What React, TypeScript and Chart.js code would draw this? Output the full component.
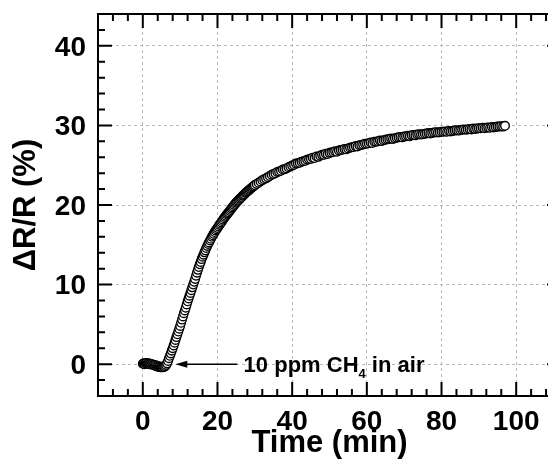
import React, { useEffect, useRef } from "react";
import { Chart, registerables } from "chart.js";

Chart.register(...registerables);

// Axis ranges and ticks
const X_MIN = -12;
const X_MAX = 112;
const Y_MIN = -4;
const Y_MAX = 44;
const X_MAJOR_STEP = 20;
const Y_MAJOR_STEP = 10;
const X_MINOR_STEP = 4;
const Y_MINOR_STEP = 2;

// Sampling grid of the measurement
const seg1Start = 0;
const seg1Step = 0.25;
// ΔR/R (%) from 0 to 30 min
const seg1Values = [
  0.05, 0.1, 0.0, 0.1,
  0.15, 0.05, 0.1, 0.0,
  0.05, -0.05, 0.0, -0.1,
  -0.1, -0.2, -0.15, -0.3,
  -0.25, -0.35, -0.3, -0.4,
  -0.35, -0.4, -0.3, -0.35,
  -0.25, -0.1, 0.1, 0.4,
  0.75, 1.05, 1.35, 1.7,
  2.0, 2.35, 2.7, 3.05,
  3.4, 3.75, 4.1, 4.45,
  4.8, 5.2, 5.6, 6.0,
  6.4, 6.75, 7.1, 7.5,
  7.9, 8.25, 8.6, 8.95,
  9.3, 9.65, 10.0, 10.35,
  10.7, 11.1, 11.5, 11.85,
  12.2, 12.55, 12.85, 13.2,
  13.5, 13.75, 14.05, 14.3,
  14.6, 14.85, 15.1, 15.3,
  15.55, 15.75, 16.0, 16.2,
  16.4, 16.6, 16.8, 16.95,
  17.1, 17.3, 17.5, 17.65,
  17.8, 18.0, 18.15, 18.35,
  18.5, 18.65, 18.8, 18.95,
  19.1, 19.25, 19.4, 19.55,
  19.7, 19.85, 20.0, 20.15,
  20.3, 20.4, 20.55, 20.65,
  20.8, 20.9, 21.0, 21.15,
  21.25, 21.35, 21.5, 21.6,
  21.7, 21.8, 21.9, 22.0,
  22.1, 22.2, 22.3, 22.4,
  22.5,
];

const seg2Start = 30.5;
const seg2Step = 0.5;
// ΔR/R (%) from 30.5 to 97 min
const seg2Values = [
  22.65, 22.8, 22.95, 23.1, 23.25, 23.35, 23.5, 23.65, 23.8, 23.9,
  24.0, 24.15, 24.2, 24.3, 24.45, 24.5, 24.6, 24.75, 24.85, 24.95,
  25.05, 25.2, 25.25, 25.3, 25.45, 25.5, 25.55, 25.7, 25.75, 25.8,
  25.95, 25.9, 26.1, 26.05, 26.2, 26.3, 26.3, 26.45, 26.4, 26.55,
  26.6, 26.65, 26.75, 26.7, 26.85, 26.9, 26.95, 27.05, 27.0, 27.1,
  27.2, 27.25, 27.3, 27.4, 27.35, 27.5, 27.55, 27.6, 27.7, 27.7,
  27.75, 27.85, 27.8, 27.95, 27.95, 28.0, 28.1, 28.05, 28.15, 28.2,
  28.25, 28.3, 28.35, 28.3, 28.4, 28.45, 28.5, 28.55, 28.5, 28.6,
  28.65, 28.7, 28.65, 28.75, 28.8, 28.75, 28.85, 28.9, 28.85, 28.9,
  28.95, 29.0, 29.05, 29.0, 29.05, 29.1, 29.15, 29.1, 29.15, 29.2,
  29.2, 29.25, 29.2, 29.3, 29.25, 29.3, 29.35, 29.4, 29.35, 29.4,
  29.45, 29.5, 29.45, 29.5, 29.55, 29.5, 29.6, 29.55, 29.6, 29.65,
  29.65, 29.7, 29.65, 29.7, 29.75, 29.7, 29.8, 29.75, 29.8, 29.85,
  29.85, 29.9, 29.85, 29.95,
];

// Annotation
const annotationMain = "10 ppm CH";
const annotationSub = "4";
const annotationTail = " in air";
const arrowTailX = 25.3;
const arrowTipX = 8.7;
const arrowY = 0;
const annotationTextX = 27.0;

const FONT = '"Liberation Sans", Arial, Helvetica, sans-serif';

const framePlugin = {
  id: "frameTicksAnnotation",
  afterDatasetsDraw(chart: any) {
    const { ctx, chartArea, scales } = chart;
    const { left, right, top, bottom } = chartArea;
    const x = scales.x;
    const y = scales.y;
    ctx.save();
    ctx.strokeStyle = "#000";
    ctx.lineWidth = 2;
    ctx.strokeRect(left, top, right - left, bottom - top);

    ctx.beginPath();
    for (let v = X_MIN; v <= X_MAX + 1e-9; v += X_MINOR_STEP) {
      const px = x.getPixelForValue(v);
      const major = Math.abs(v % X_MAJOR_STEP) < 1e-9;
      const len = major ? 14 : 7;
      ctx.moveTo(px, bottom);
      ctx.lineTo(px, bottom - len);
      ctx.moveTo(px, top);
      ctx.lineTo(px, top + len);
    }
    for (let v = Y_MIN; v <= Y_MAX + 1e-9; v += Y_MINOR_STEP) {
      const py = y.getPixelForValue(v);
      const major = Math.abs(v % Y_MAJOR_STEP) < 1e-9;
      const len = major ? 14 : 7;
      ctx.moveTo(left, py);
      ctx.lineTo(left + len, py);
      ctx.moveTo(right, py);
      ctx.lineTo(right - len, py);
    }
    ctx.stroke();

    // Arrow annotation
    const ay = y.getPixelForValue(arrowY);
    const tailPx = x.getPixelForValue(arrowTailX);
    const tipPx = x.getPixelForValue(arrowTipX);
    ctx.lineWidth = 1.5;
    ctx.beginPath();
    ctx.moveTo(tailPx, ay);
    ctx.lineTo(tipPx + 10, ay);
    ctx.stroke();
    ctx.fillStyle = "#000";
    ctx.beginPath();
    ctx.moveTo(tipPx, ay);
    ctx.lineTo(tipPx + 12, ay - 3.5);
    ctx.lineTo(tipPx + 12, ay + 3.5);
    ctx.closePath();
    ctx.fill();

    // Text
    const tx = x.getPixelForValue(annotationTextX);
    ctx.textBaseline = "alphabetic";
    ctx.textAlign = "left";
    ctx.font = `bold 22px ${FONT}`;
    const base = ay + 8;
    ctx.fillText(annotationMain, tx, base);
    let cx = tx + ctx.measureText(annotationMain).width;
    ctx.font = `bold 13px ${FONT}`;
    ctx.fillText(annotationSub, cx, base + 6);
    cx += ctx.measureText(annotationSub).width;
    ctx.font = `bold 22px ${FONT}`;
    ctx.fillText(annotationTail, cx, base);
    ctx.restore();
  },
};

export default function App() {
  const canvasRef = useRef<HTMLCanvasElement | null>(null);

  useEffect(() => {
    document.body.style.margin = "0";
    document.body.style.overflow = "hidden";
    const canvas = canvasRef.current;
    if (!canvas) return;

    const points = [
      ...seg1Values.map((v, i) => ({ x: seg1Start + i * seg1Step, y: v })),
      ...seg2Values.map((v, i) => ({ x: seg2Start + i * seg2Step, y: v })),
    ];

    const tickFont = { family: FONT, size: 28, weight: "bold" as const };
    const gridColor = "#b8b8b8";

    const chart = new Chart(canvas, {
      type: "scatter",
      data: {
        datasets: [
          {
            data: points,
            pointRadius: 4.3,
            pointBorderWidth: 1.4,
            pointBackgroundColor: "#ffffff",
            pointBorderColor: "#000000",
            showLine: false,
          },
        ],
      },
      options: {
        animation: false,
        responsive: false,
        devicePixelRatio: 1,
        layout: { padding: { top: 14, right: 9, left: 0, bottom: 0 } },
        plugins: { legend: { display: false }, tooltip: { enabled: false } },
        scales: {
          x: {
            type: "linear",
            min: X_MIN,
            max: X_MAX,
            afterFit: (s: any) => {
              s.height = 67;
              s.paddingLeft = 0;
              s.paddingRight = 0;
            },
            ticks: {
              stepSize: X_MAJOR_STEP,
              includeBounds: false,
              color: "#000",
              font: tickFont,
              padding: 9,
              maxRotation: 0,
            },
            grid: { color: gridColor, lineWidth: 1, drawTicks: false },
            border: { display: false, dash: [3, 3] },
            title: {
              display: true,
              text: "Time (min)",
              color: "#000",
              font: { family: FONT, size: 31, weight: "bold", lineHeight: 1 },
              padding: { top: 0, bottom: 4 },
            },
          },
          y: {
            type: "linear",
            min: Y_MIN,
            max: Y_MAX,
            afterFit: (s: any) => {
              s.width = 98;
              s.paddingTop = 0;
              s.paddingBottom = 0;
            },
            ticks: {
              stepSize: Y_MAJOR_STEP,
              includeBounds: false,
              color: "#000",
              font: tickFont,
              padding: 12,
              labelOffset: 2,
            },
            grid: { color: gridColor, lineWidth: 1, drawTicks: false },
            border: { display: false, dash: [3, 3] },
            title: {
              display: true,
              text: "ΔR/R (%)",
              color: "#000",
              font: { family: FONT, size: 31, weight: "bold", lineHeight: 1 },
              padding: { top: 11, bottom: 0 },
            },
          },
        },
      },
      plugins: [framePlugin],
    });

    return () => chart.destroy();
  }, []);

  return (
    <div style={{ width: 548, height: 463, overflow: "hidden", background: "#fff" }}>
      <canvas ref={canvasRef} width={570} height={463} style={{ display: "block" }} />
    </div>
  );
}
